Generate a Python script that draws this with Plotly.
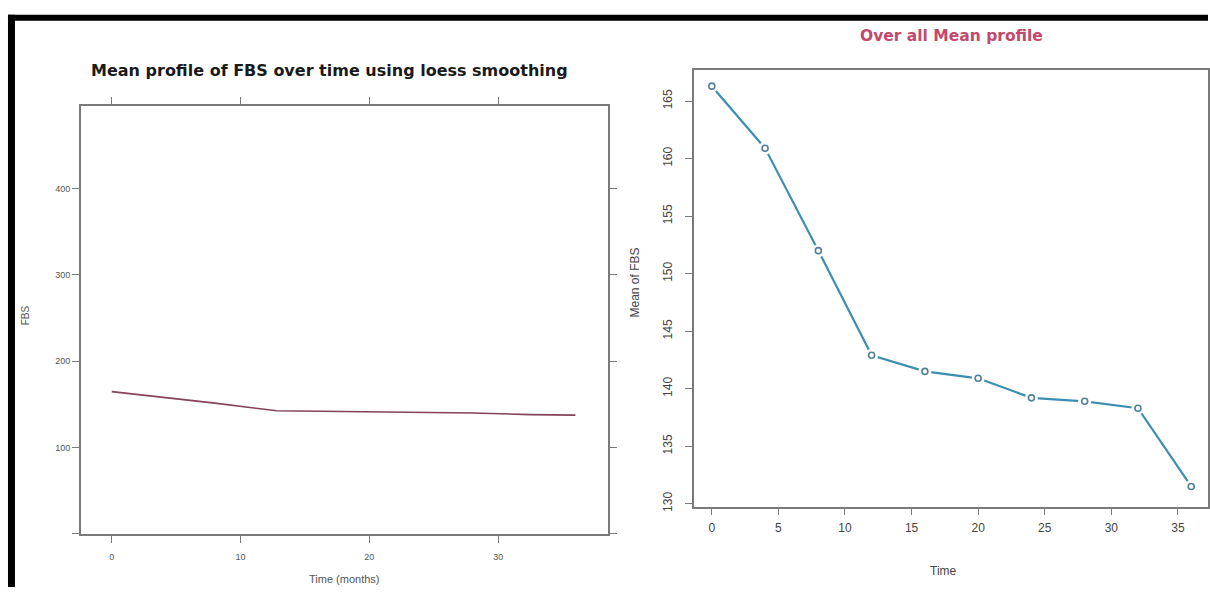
import plotly.graph_objects as go

# ---- data ----
loess_time = [0, 4, 8, 12.8, 16, 20, 24, 28, 32.5, 36]
loess_fbs = [164.8, 158.5, 151.5, 142.6, 142.0, 141.8, 141.2, 140.0, 138.2, 137.6]

mean_time = [0, 4, 8, 12, 16, 20, 24, 28, 32, 36]
mean_fbs = [166.3, 160.9, 152.0, 142.9, 141.5, 140.9, 139.2, 138.9, 138.3, 131.5]

left_xticks = [0, 10, 20, 30]
left_yticks = [0, 100, 200, 300, 400]
left_ytext = ["", "100", "200", "300", "400"]
right_xticks = [0, 5, 10, 15, 20, 25, 30, 35]
right_yticks = [130, 135, 140, 145, 150, 155, 160, 165]

W, H = 1210, 592
def px(x):
    return x / W
def py(y):
    return 1 - y / H

FONT = "Liberation Sans, Arial, sans-serif"
TFONT = "DejaVu Sans, Verdana, sans-serif"
AX = "#7a7a7a"

fig = go.Figure()

fig.add_trace(go.Scatter(x=loess_time, y=loess_fbs, mode="lines",
                         line=dict(color="#84435a", width=1.6),
                         xaxis="x", yaxis="y", showlegend=False))

# right: line, white gaps around points, open circles
fig.add_trace(go.Scatter(x=mean_time, y=mean_fbs, mode="lines",
                         line=dict(color="#3d8fb0", width=2.2),
                         xaxis="x2", yaxis="y2", showlegend=False))
fig.add_trace(go.Scatter(x=mean_time, y=mean_fbs, mode="markers",
                         marker=dict(symbol="circle", size=13, color="white",
                                     line=dict(width=0)),
                         xaxis="x2", yaxis="y2", showlegend=False))
fig.add_trace(go.Scatter(x=mean_time, y=mean_fbs, mode="markers",
                         marker=dict(symbol="circle-open", size=6, color="#4f7f99",
                                     line=dict(width=1.6, color="#4f7f99")),
                         xaxis="x2", yaxis="y2", showlegend=False))

common = dict(showgrid=False, zeroline=False, showline=True, linecolor=AX,
              linewidth=1.5, ticks="outside", tickcolor=AX, tickwidth=1.2,
              ticklen=7)

fig.update_layout(
    width=W, height=H,
    margin=dict(l=0, r=0, t=0, b=0),
    paper_bgcolor="white", plot_bgcolor="white",
    font=dict(family=FONT, color="#555555"),
    xaxis=dict(domain=[px(81), px(609)], range=[-2.4, 38.53],
               tickvals=left_xticks, mirror="ticks", ticklabelstandoff=6,
               tickfont=dict(size=9, color="#555555"), anchor="y", **common),
    yaxis=dict(domain=[py(539), py(107)], range=[-0.6, 495.4],
               tickvals=left_yticks, ticktext=left_ytext, mirror="ticks",
               tickfont=dict(size=9, color="#555555"), anchor="x", **common),
    xaxis2=dict(domain=[px(695), 1.0], range=[-1.35, 37.26],
                tickvals=right_xticks, mirror=True, ticklabelstandoff=2,
                tickfont=dict(size=12, color="#444444"), anchor="y2", **common),
    yaxis2=dict(domain=[py(511), py(71)], range=[129.74, 167.67],
                tickvals=right_yticks, tickangle=-90, mirror=True,
                ticklabelstandoff=8,
                tickfont=dict(size=12, color="#444444"), anchor="x2", **common),
)

ann = [
    dict(text="<b>Mean profile of FBS over time using loess smoothing</b>",
         x=px(330), y=py(71), font=dict(family=TFONT, size=16, color="#1a1a1a")),
    dict(text="<b>Over all Mean profile</b>",
         x=px(953), y=py(36), font=dict(family=TFONT, size=15.5, color="#c2496b")),
    dict(text="Time (months)", x=px(345), y=py(584),
         font=dict(size=11, color="#555555")),
    dict(text="FBS", x=px(25), y=py(318), textangle=-90,
         font=dict(size=10, color="#555555")),
    dict(text="Time", x=px(945), y=py(576),
         font=dict(size=12, color="#444444")),
    dict(text="Mean of FBS", x=px(636), y=py(285), textangle=-90,
         font=dict(size=12, color="#444444")),
]
for a in ann:
    fig.add_annotation(xref="paper", yref="paper", showarrow=False,
                       xanchor="center", yanchor="middle", **a)

# black frame (decoration)
fig.add_shape(type="rect", xref="paper", yref="paper",
              x0=px(8), x1=px(15), y0=0, y1=py(15),
              fillcolor="black", line=dict(width=0), layer="above")
fig.add_shape(type="rect", xref="paper", yref="paper",
              x0=px(8), x1=1, y0=py(21), y1=py(15),
              fillcolor="black", line=dict(width=0), layer="above")

fig.write_html("out.html")
